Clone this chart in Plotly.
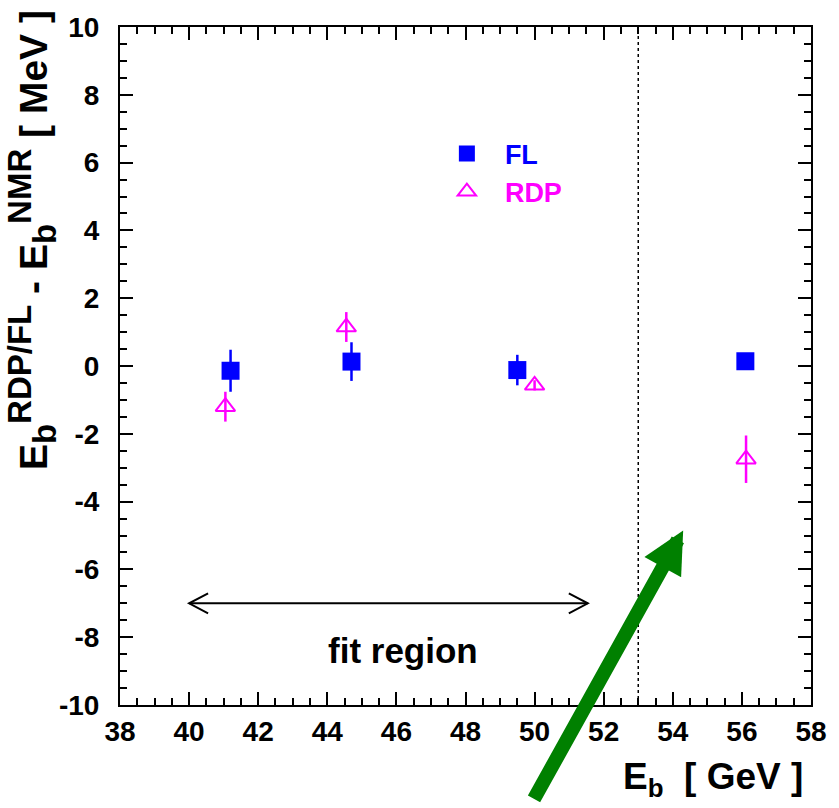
import plotly.graph_objects as go

# ---- data ----
fl_x = [41.2, 44.7, 49.5, 56.1]
fl_y = [-0.14, 0.13, -0.12, 0.14]
fl_err = [0.62, 0.57, 0.45, 0.2]

rdp_x = [41.05, 44.55, 50.0, 56.12]
rdp_y = [-1.2, 1.15, -0.57, -2.75]
rdp_err = [0.44, 0.44, 0.15, 0.7]

x_tickvals = [38, 40, 42, 44, 46, 48, 50, 52, 54, 56, 58]
x_ticktext = ["38", "40", "42", "44", "46", "48", "50", "52", "54", "56", "58"]
y_tickvals = [-10, -8, -6, -4, -2, 0, 2, 4, 6, 8, 10]
y_ticktext = ["-10", "-8", "-6", "-4", "-2", "0", "2", "4", "6", "8", "10"]

fit_lo, fit_hi, fit_y = 40.0, 51.54, -7.0
cut_x = 53.0
green_tip = (54.3, -4.85)

FONT = "Liberation Sans, Arial, sans-serif"
BLUE = "#0000ff"
MAG = "#ff00ff"

fig = go.Figure()
fig.add_trace(go.Scatter(
    x=fl_x, y=fl_y, mode="markers",
    name="<span style='color:#0000ff'><b>FL</b></span>",
    marker=dict(symbol="square", size=18, color=BLUE),
    error_y=dict(type="data", array=fl_err, color=BLUE, thickness=2.5, width=0),
))
fig.add_trace(go.Scatter(
    x=rdp_x, y=rdp_y, mode="markers",
    name="<span style='color:#ff00ff'><b>RDP</b></span>",
    marker=dict(symbol="triangle-up-open", size=17, color=MAG, line=dict(width=2, color=MAG)),
    error_y=dict(type="data", array=rdp_err, color=MAG, thickness=2.5, width=0),
))

tickfont = dict(family=FONT, size=28, color="black", weight="bold")
axis_common = dict(
    ticks="inside", ticklen=13, tickwidth=2, tickcolor="black",
    showline=True, linewidth=2, linecolor="black", mirror="ticks",
    showgrid=False, zeroline=False, tickfont=tickfont,
)
fig.update_xaxes(range=[38, 58], tickvals=x_tickvals,
                 ticktext=["<b>%s</b>" % t for t in x_ticktext],
                 minor=dict(dtick=0.5, tick0=38, ticks="inside", ticklen=7, tickwidth=2, tickcolor="black"),
                 ticklabelstandoff=0, **axis_common)
fig.update_yaxes(range=[-10, 10], tickvals=y_tickvals,
                 ticktext=["<b>%s</b>" % t for t in y_ticktext],
                 minor=dict(dtick=0.5, tick0=-10, ticks="inside", ticklen=7, tickwidth=2, tickcolor="black"),
                 ticklabelstandoff=13, **axis_common)

shapes = [
    dict(type="line", xref="x", yref="paper", x0=cut_x, x1=cut_x, y0=0, y1=1,
         line=dict(color="black", width=1.5, dash="dot")),
    dict(type="line", xref="x", yref="y", x0=fit_lo, x1=fit_hi, y0=fit_y, y1=fit_y,
         line=dict(color="black", width=2)),
    dict(type="path", xref="x", yref="y", xsizemode="pixel", ysizemode="pixel",
         xanchor=fit_lo, yanchor=fit_y, path="M 19,10 L 0,0 L 19,-10",
         line=dict(color="black", width=2)),
    dict(type="path", xref="x", yref="y", xsizemode="pixel", ysizemode="pixel",
         xanchor=fit_hi, yanchor=fit_y, path="M -19,10 L 0,0 L -19,-10",
         line=dict(color="black", width=2)),
]

ytitle = ("<b>E<sub><span style='font-size:33px'>b</span></sub>"
          "<sup><span style='font-size:33px'>RDP/FL</span></sup> - "
          "E<sub><span style='font-size:33px'>b</span></sub>"
          "<sup><span style='font-size:33px'>NMR</span></sup> [ MeV ]</b>")

annotations = [
    dict(text="<b>fit region</b>", x=46.2, y=-8.4, xref="x", yref="y", showarrow=False,
         font=dict(family=FONT, size=35, color="black")),
    dict(text=ytitle,
         textangle=-90, xref="paper", yref="paper", x=-0.128, y=0.685,
         xanchor="center", yanchor="middle", showarrow=False,
         font=dict(family=FONT, size=39, color="black")),
    dict(text="<b>E<sub>b</sub>  [ GeV ]</b>", xref="paper", yref="paper", x=0.991, y=-0.109,
         xanchor="right", yanchor="middle", showarrow=False,
         font=dict(family=FONT, size=37, color="black")),
    dict(text="", x=green_tip[0], y=green_tip[1], xref="x", yref="y",
         ax=-150, ay=270, showarrow=True, arrowhead=2, arrowsize=0.6,
         arrowwidth=14, arrowcolor="#008000"),
]

fig.update_layout(
    width=839, height=808,
    margin=dict(l=120, r=28, t=18, b=103),
    paper_bgcolor="white", plot_bgcolor="white",
    shapes=shapes, annotations=annotations,
    showlegend=True,
    legend=dict(x=0.447, y=0.849, xanchor="left", yanchor="top",
                itemwidth=66, bgcolor="rgba(0,0,0,0)",
                font=dict(family=FONT, size=27, weight="bold")),
)

fig.write_html("out.html")
